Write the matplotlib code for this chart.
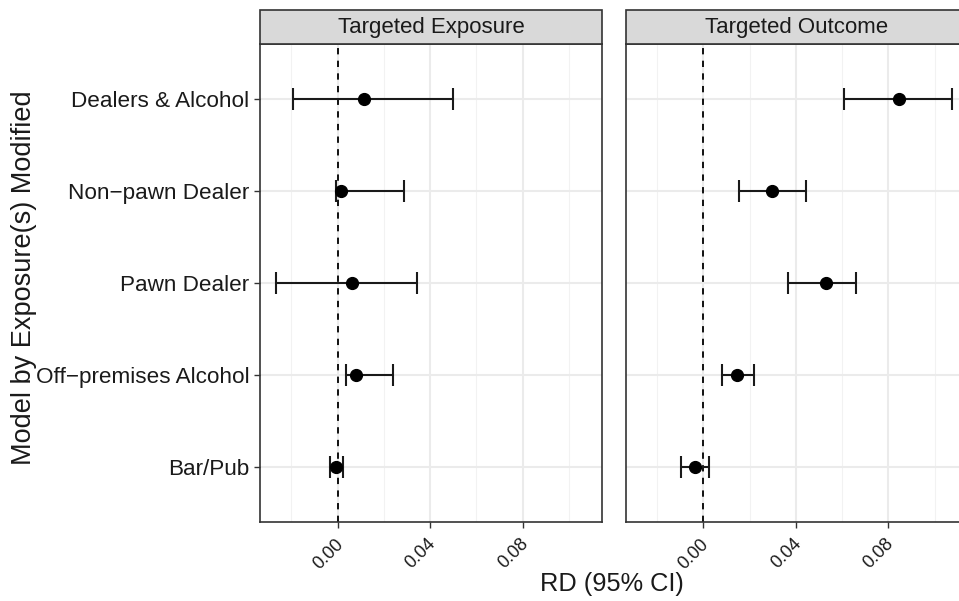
import matplotlib
matplotlib.use("Agg")
import matplotlib.pyplot as plt
import matplotlib.transforms as mtransforms
from matplotlib.patches import Rectangle
import numpy as np

plt.rcParams['font.family'] = ['Liberation Sans', 'DejaVu Sans']

categories = ["Dealers & Alcohol", "Non\u2212pawn Dealer", "Pawn Dealer",
              "Off\u2212premises Alcohol", "Bar/Pub"]
panels = ["Targeted Exposure", "Targeted Outcome"]

exp_est = [0.0112, 0.0014, 0.0063, 0.0079, -0.0009]
exp_lo = [-0.0192, -0.0007, -0.0268, 0.0036, -0.0033]
exp_hi = [0.0497, 0.0288, 0.0342, 0.0241, 0.0024]

out_est = [0.0845, 0.0297, 0.0529, 0.0144, -0.0036]
out_lo = [0.0607, 0.0152, 0.0364, 0.0081, -0.0095]
out_hi = [0.1076, 0.0445, 0.0660, 0.0218, 0.0023]

major_ticks = [0.00, 0.04, 0.08]
minor_ticks = [-0.02, 0.02, 0.06, 0.10]
tick_labels = ["0.00", "0.04", "0.08"]

W, H = 959, 601
fig = plt.figure(figsize=(W / 100, H / 100), dpi=100)

def fx(px):
    return px / W

def fy(py):
    return 1 - py / H

panel_left = [260, 625.7]
panel_w = 342
top_px, bot_px, strip_top = 44, 522, 10

data = [(exp_est, exp_lo, exp_hi), (out_est, out_lo, out_hi)]
ypos = np.arange(len(categories))[::-1] + 1  # top category highest

for i, (name, (est, lo, hi)) in enumerate(zip(panels, data)):
    ax = fig.add_axes([fx(panel_left[i]), fy(bot_px), fx(panel_w), (bot_px - top_px) / H])
    ax.set_xlim(-0.0336, 0.1143)
    ax.set_ylim(0.4, 5.6)
    ax.set_xticks(major_ticks)
    ax.set_xticks(minor_ticks, minor=True)
    ax.set_yticks(ypos)
    ax.grid(which='major', color='#EBEBEB', linewidth=1.5, zorder=0)
    ax.grid(which='minor', axis='x', color='#F2F2F2', linewidth=0.8, zorder=0)
    ax.set_axisbelow(True)
    ax.tick_params(which='minor', length=0)
    ax.tick_params(which='major', length=4, width=1, color='#333333')
    for s in ax.spines.values():
        s.set_color('#333333')
        s.set_linewidth(1.2)
    ax.axvline(0, color='black', linestyle=(0, (3.5, 3.5)), linewidth=1.3, zorder=2)
    est = np.array(est); lo = np.array(lo); hi = np.array(hi)
    ax.errorbar(est, ypos, xerr=[est - lo, hi - est], fmt='o', color='black',
                ecolor='#1a1a1a', elinewidth=1.5, capsize=8, capthick=1.5,
                markersize=8.5, zorder=3)
    ax.set_xticklabels(tick_labels, rotation=45, ha='right', va='top',
                       fontsize=13, color='#1a1a1a')
    offset = mtransforms.ScaledTranslation(9 / 100, -3 / 100, fig.dpi_scale_trans)
    for lab in ax.get_xticklabels():
        lab.set_transform(lab.get_transform() + offset)
    if i == 0:
        ax.set_yticklabels([categories[k] for k in range(len(categories))],
                           fontsize=16.2, color='#1a1a1a')
    else:
        ax.set_yticklabels([])
        ax.tick_params(axis='y', length=0)
    # strip
    sx = fx(panel_left[i]); sw = fx(panel_w)
    rect = Rectangle((sx, fy(top_px)), sw, (top_px - strip_top) / H,
                     transform=fig.transFigure, facecolor='#D9D9D9',
                     edgecolor='#333333', linewidth=1.2, clip_on=False)
    fig.add_artist(rect)
    fig.text(sx + sw / 2, fy((top_px + strip_top) / 2), name, ha='center', va='center',
             fontsize=16, color='#1a1a1a')

fig.text(fx(24), fy(278), "Model by Exposure(s) Modified", rotation=90,
         ha='center', va='center', fontsize=19.5, color='#1a1a1a')
fig.text(fx(612), fy(584), "RD (95% CI)", ha='center', va='center',
         fontsize=18.3, color='#1a1a1a')

fig.savefig("out.png", dpi=100)
